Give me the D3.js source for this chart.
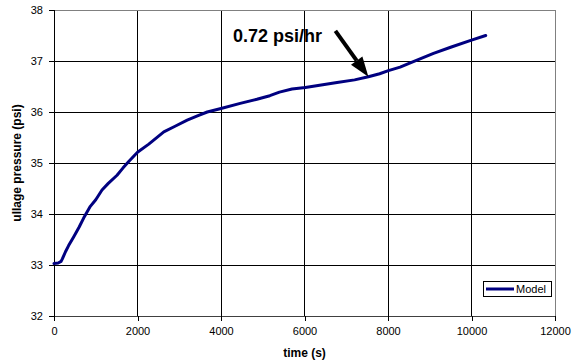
<!DOCTYPE html>
<html><head><meta charset="utf-8">
<script src="https://cdn.jsdelivr.net/npm/d3@7"></script>
<style>body{margin:0;background:#fff;} text{font-family:Arial,"Liberation Sans",sans-serif;}</style>
</head><body><svg id="c" width="572" height="362"></svg>
<script>
const times = [0,100,170,200,275,350,470,600,710,870,1000,1150,1300,1510,1650,1790,2000,2270,2630,2900,3190,3450,3670,4000,4460,4860,5170,5400,5700,6020,6400,6780,7200,7530,7800,8010,8290,8490,9090,9500,10000,10340];
const pressure = [33.03,33.04,33.07,33.12,33.26,33.38,33.55,33.74,33.92,34.15,34.28,34.47,34.60,34.76,34.90,35.03,35.21,35.37,35.61,35.72,35.84,35.93,36.0,36.07,36.17,36.25,36.32,36.39,36.45,36.48,36.53,36.58,36.63,36.69,36.75,36.81,36.88,36.95,37.15,37.27,37.41,37.50];
const xTicks = [0,2000,4000,6000,8000,10000,12000];
const yTicks = [32,33,34,35,36,37,38];
const seriesName = "Model";
const annotationText = "0.72 psi/hr";
const annotationFrom = [6740, 37.59];
const annotationTo = [7530, 36.69];

const svg = d3.select("#c");
const L=54, R=555, T=10, B=316;
const x = d3.scaleLinear().domain([0,12000]).range([L,R]);
const y = d3.scaleLinear().domain([32,38]).range([B,T]);

// grid
svg.append("g").selectAll("line").data(xTicks.slice(1,-1)).join("line")
  .attr("x1",d=>x(d)).attr("x2",d=>x(d)).attr("y1",T).attr("y2",B)
  .attr("stroke","#000").attr("stroke-width",1).attr("shape-rendering","crispEdges");
svg.append("g").selectAll("line").data(yTicks.slice(1,-1)).join("line")
  .attr("x1",L).attr("x2",R).attr("y1",d=>y(d)).attr("y2",d=>y(d))
  .attr("stroke","#000").attr("stroke-width",1).attr("shape-rendering","crispEdges");
// border top/right gray
svg.append("line").attr("x1",L).attr("x2",R).attr("y1",T).attr("y2",T).attr("stroke","#808080").attr("shape-rendering","crispEdges");
svg.append("line").attr("x1",R).attr("x2",R).attr("y1",T).attr("y2",B).attr("stroke","#808080").attr("shape-rendering","crispEdges");

// axes
const xAxis = d3.axisBottom(x).tickValues(xTicks).tickSize(5).tickPadding(6).tickFormat(d3.format("d"));
const gx = svg.append("g").attr("transform",`translate(0,${B})`).call(xAxis);
const yAxis = d3.axisLeft(y).tickValues(yTicks).tickSize(5).tickPadding(6).tickFormat(d3.format("d"));
const gy = svg.append("g").attr("transform",`translate(${L},0)`).call(yAxis);
[gx,gy].forEach(g=>{
  g.select(".domain").attr("stroke","#000").attr("shape-rendering","crispEdges");
  g.selectAll(".tick line").attr("stroke","#000").attr("shape-rendering","crispEdges");
  g.selectAll("text").attr("font-size",11).attr("fill","#000").attr("font-family","Arial, 'Liberation Sans', sans-serif");
});
gx.select(".domain").attr("stroke","#404040").attr("stroke-width",1.5);

// line
const line = d3.line().x((d,i)=>x(times[i])).y(d=>y(d));
svg.append("path").datum(pressure).attr("d",line)
  .attr("fill","none").attr("stroke","#000080").attr("stroke-width",3).attr("stroke-linejoin","round").attr("stroke-linecap","round");

// arrow annotation
const x0=x(annotationFrom[0]), y0=y(annotationFrom[1]), x1=x(annotationTo[0]), y1=y(annotationTo[1]);
const ang=Math.atan2(y1-y0,x1-x0), headL=20, headW=7;
const bx=x1-headL*Math.cos(ang), by=y1-headL*Math.sin(ang);
svg.append("line").attr("x1",x0).attr("y1",y0).attr("x2",bx).attr("y2",by).attr("stroke","#000").attr("stroke-width",4);
const px=-Math.sin(ang), py=Math.cos(ang);
svg.append("polygon").attr("points",[[x1,y1],[bx+px*headW,by+py*headW],[bx-px*headW,by-py*headW]].map(p=>p.join(",")).join(" ")).attr("fill","#000");
svg.append("text").attr("x",233).attr("y",42).attr("font-size",18).attr("font-weight","bold").attr("fill","#000").text(annotationText);

// titles
svg.append("text").attr("x",(L+R)/2).attr("y",357).attr("text-anchor","middle").attr("font-size",12).attr("font-weight","bold").text("time (s)");
svg.append("text").attr("transform","translate(21,163) rotate(-90)").attr("text-anchor","middle").attr("font-size",12).attr("font-weight","bold").text("ullage pressure (psi)");

// legend
const lg = svg.append("g");
lg.append("rect").attr("x",483.5).attr("y",281.5).attr("width",68).attr("height",15).attr("fill","#fff").attr("stroke","#000");
lg.append("line").attr("x1",486).attr("x2",514).attr("y1",289).attr("y2",289).attr("stroke","#000080").attr("stroke-width",3);
lg.append("text").attr("x",516).attr("y",293).attr("font-size",11).text(seriesName);
</script></body></html>
